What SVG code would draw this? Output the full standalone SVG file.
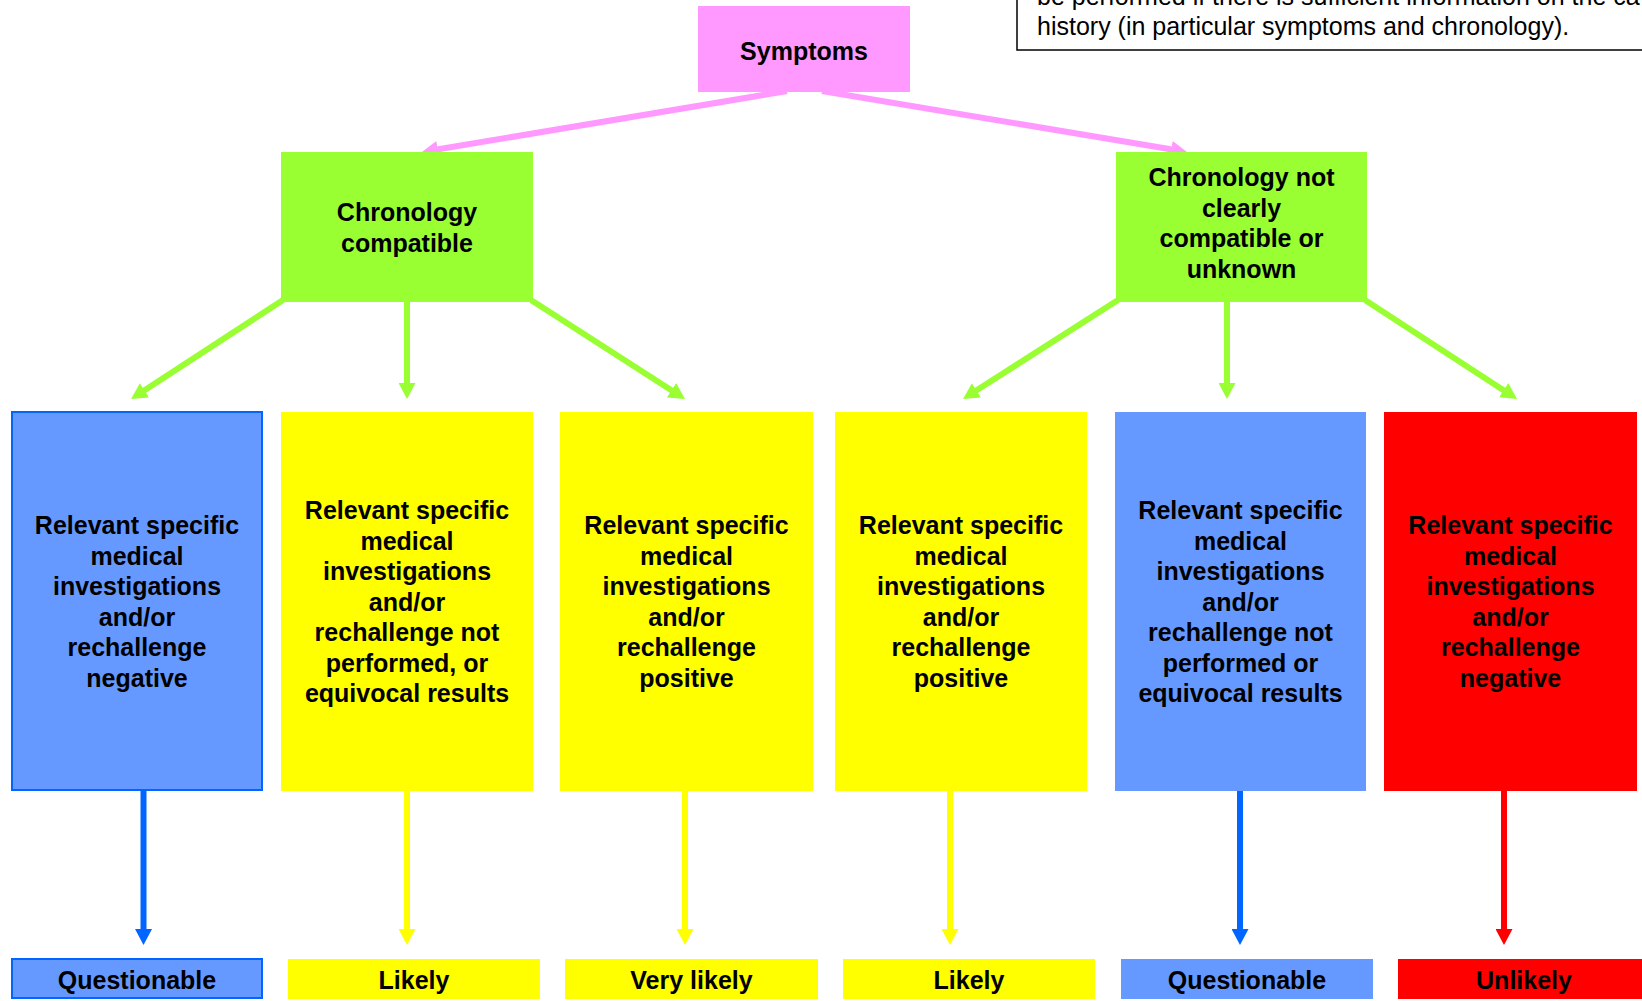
<svg xmlns="http://www.w3.org/2000/svg" width="1642" height="1001" viewBox="0 0 1642 1001">
<style>
text{font-family:"Liberation Sans",Arial,sans-serif;font-size:25px;fill:#000}
.b{font-weight:bold;text-anchor:middle}
.note{font-weight:normal}
.pink{fill:#FF99FF}
.green{fill:#99FF33}
.blue{fill:#6699FF}
.blueb{fill:#6699FF;stroke:#0066FF;stroke-width:2}
.yellow{fill:#FFFF00}
.red{fill:#FF0000}
.c{stroke-width:6;fill:none}
</style>
<defs>
<marker id="ap" markerUnits="userSpaceOnUse" markerWidth="17" markerHeight="17" refX="4" refY="8.5" orient="auto"><path d="M0,0 L16,8.5 L0,17 Z" fill="#FF99FF"/></marker>
<marker id="ag" markerUnits="userSpaceOnUse" markerWidth="17" markerHeight="17" refX="4" refY="8.5" orient="auto"><path d="M0,0 L16,8.5 L0,17 Z" fill="#99FF33"/></marker>
<marker id="ab" markerUnits="userSpaceOnUse" markerWidth="17" markerHeight="17" refX="4" refY="8.5" orient="auto"><path d="M0,0 L16,8.5 L0,17 Z" fill="#0066FF"/></marker>
<marker id="ay" markerUnits="userSpaceOnUse" markerWidth="17" markerHeight="17" refX="4" refY="8.5" orient="auto"><path d="M0,0 L16,8.5 L0,17 Z" fill="#FFFF00"/></marker>
<marker id="ar" markerUnits="userSpaceOnUse" markerWidth="17" markerHeight="17" refX="4" refY="8.5" orient="auto"><path d="M0,0 L16,8.5 L0,17 Z" fill="#FF0000"/></marker>
</defs>
<rect width="1642" height="1001" fill="#fff"/>

<g id="note">
<rect x="1017" y="-10" width="700" height="60" fill="#fff" stroke="#000" stroke-width="1.5"/>
<text class="note" x="1037" y="5">be performed if there is sufficient information on the ca</text>
<text class="note" x="1037" y="35">history (in particular symptoms and chronology).</text>
</g>

<g id="connectors">
<line class="c" stroke="#FF99FF" x1="787" y1="91" x2="433.8" y2="150" marker-end="url(#ap)"/>
<line class="c" stroke="#FF99FF" x1="822" y1="91" x2="1175.2" y2="150" marker-end="url(#ap)"/>
<line class="c" stroke="#99FF33" x1="283" y1="300" x2="141.1" y2="392.5" marker-end="url(#ag)"/>
<line class="c" stroke="#99FF33" x1="407" y1="300" x2="407" y2="387" marker-end="url(#ag)"/>
<line class="c" stroke="#99FF33" x1="531" y1="300" x2="674.9" y2="392.4" marker-end="url(#ag)"/>
<line class="c" stroke="#99FF33" x1="1118" y1="300" x2="973.1" y2="392.5" marker-end="url(#ag)"/>
<line class="c" stroke="#99FF33" x1="1227" y1="300" x2="1227" y2="387" marker-end="url(#ag)"/>
<line class="c" stroke="#99FF33" x1="1365" y1="300" x2="1507" y2="392.4" marker-end="url(#ag)"/>
<line class="c" stroke="#0066FF" x1="143.5" y1="791" x2="143.5" y2="933" marker-end="url(#ab)"/>
<line class="c" stroke="#FFFF00" x1="407" y1="791" x2="407" y2="933" marker-end="url(#ay)"/>
<line class="c" stroke="#FFFF00" x1="685" y1="791" x2="685" y2="933" marker-end="url(#ay)"/>
<line class="c" stroke="#FFFF00" x1="950" y1="791" x2="950" y2="933" marker-end="url(#ay)"/>
<line class="c" stroke="#0066FF" x1="1240" y1="791" x2="1240" y2="933" marker-end="url(#ab)"/>
<line class="c" stroke="#FF0000" x1="1504" y1="791" x2="1504" y2="933" marker-end="url(#ar)"/>
</g>

<g id="symptoms">
<rect class="pink" x="698" y="6" width="212" height="86"/>
<text class="b" x="804" y="59.5">Symptoms</text>
</g>

<g id="chron-compatible">
<rect class="green" x="281" y="152" width="252" height="150"/>
<text class="b" x="407" y="221">Chronology</text>
<text class="b" x="407" y="251.5">compatible</text>
</g>

<g id="chron-not">
<rect class="green" x="1116" y="152" width="251" height="150"/>
<text class="b" x="1241.5" y="186">Chronology not</text>
<text class="b" x="1241.5" y="216.5">clearly</text>
<text class="b" x="1241.5" y="247">compatible or</text>
<text class="b" x="1241.5" y="277.5">unknown</text>
</g>

<g id="inv1">
<rect class="blueb" x="12" y="412" width="250" height="378"/>
<text class="b" x="137" y="534.25">Relevant specific</text>
<text class="b" x="137" y="564.75">medical</text>
<text class="b" x="137" y="595.25">investigations</text>
<text class="b" x="137" y="625.75">and/or</text>
<text class="b" x="137" y="656.25">rechallenge</text>
<text class="b" x="137" y="686.75">negative</text>
</g>

<g id="inv2">
<rect class="yellow" x="281" y="412" width="252" height="379"/>
<text class="b" x="407" y="519">Relevant specific</text>
<text class="b" x="407" y="549.5">medical</text>
<text class="b" x="407" y="580">investigations</text>
<text class="b" x="407" y="610.5">and/or</text>
<text class="b" x="407" y="641">rechallenge not</text>
<text class="b" x="407" y="671.5">performed, or</text>
<text class="b" x="407" y="702">equivocal results</text>
</g>

<g id="inv3">
<rect class="yellow" x="560" y="412" width="253" height="379"/>
<text class="b" x="686.5" y="534.25">Relevant specific</text>
<text class="b" x="686.5" y="564.75">medical</text>
<text class="b" x="686.5" y="595.25">investigations</text>
<text class="b" x="686.5" y="625.75">and/or</text>
<text class="b" x="686.5" y="656.25">rechallenge</text>
<text class="b" x="686.5" y="686.75">positive</text>
</g>

<g id="inv4">
<rect class="yellow" x="835" y="412" width="252" height="379"/>
<text class="b" x="961" y="534.25">Relevant specific</text>
<text class="b" x="961" y="564.75">medical</text>
<text class="b" x="961" y="595.25">investigations</text>
<text class="b" x="961" y="625.75">and/or</text>
<text class="b" x="961" y="656.25">rechallenge</text>
<text class="b" x="961" y="686.75">positive</text>
</g>

<g id="inv5">
<rect class="blue" x="1115" y="412" width="251" height="379"/>
<text class="b" x="1240.5" y="519">Relevant specific</text>
<text class="b" x="1240.5" y="549.5">medical</text>
<text class="b" x="1240.5" y="580">investigations</text>
<text class="b" x="1240.5" y="610.5">and/or</text>
<text class="b" x="1240.5" y="641">rechallenge not</text>
<text class="b" x="1240.5" y="671.5">performed or</text>
<text class="b" x="1240.5" y="702">equivocal results</text>
</g>

<g id="inv6">
<rect class="red" x="1384" y="412" width="253" height="379"/>
<text class="b" x="1510.5" y="534.25">Relevant specific</text>
<text class="b" x="1510.5" y="564.75">medical</text>
<text class="b" x="1510.5" y="595.25">investigations</text>
<text class="b" x="1510.5" y="625.75">and/or</text>
<text class="b" x="1510.5" y="656.25">rechallenge</text>
<text class="b" x="1510.5" y="686.75">negative</text>
</g>

<g id="res1">
<rect class="blueb" x="12" y="959" width="250" height="39"/>
<text class="b" x="137" y="989">Questionable</text>
</g>
<g id="res2">
<rect class="yellow" x="288" y="959" width="252" height="40"/>
<text class="b" x="414" y="989">Likely</text>
</g>
<g id="res3">
<rect class="yellow" x="565" y="959" width="253" height="40"/>
<text class="b" x="691.5" y="989">Very likely</text>
</g>
<g id="res4">
<rect class="yellow" x="843" y="959" width="252" height="40"/>
<text class="b" x="969" y="989">Likely</text>
</g>
<g id="res5">
<rect class="blue" x="1121" y="959" width="252" height="40"/>
<text class="b" x="1247" y="989">Questionable</text>
</g>
<g id="res6">
<rect class="red" x="1398" y="959" width="252" height="40"/>
<text class="b" x="1524" y="989">Unlikely</text>
</g>
</svg>
